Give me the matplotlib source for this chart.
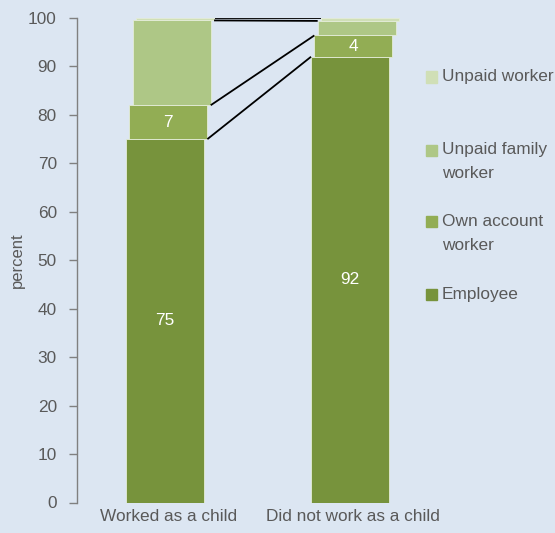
import matplotlib.pyplot as plt
from matplotlib.patches import Rectangle

plt.rcParams['font.family'] = ['Liberation Sans', 'DejaVu Sans']

categories = ["Worked as a child", "Did not work as a child"]
series = ["Employee", "Own account\nworker", "Unpaid family\nworker", "Unpaid worker"]
employee = [75, 92]
own_account = [7, 4.4]
unpaid_family = [17.5, 3.0]
unpaid_worker = [0.5, 0.6]
labels_shown = [["75", "92"], ["7", "4"]]

colors = ["#77933c", "#92ad54", "#aec786", "#d0dfb6"]
bg = "#dce6f2"
grey = "#595959"

W, H = 555, 533
fig = plt.figure(figsize=(W / 100, H / 100), dpi=100, facecolor=bg)
ax = fig.add_axes([77 / W, 1 - 502.5 / H, (420 - 77) / W, (502.5 - 18) / H])
ax.set_facecolor(bg)

width = 0.422
off = 0.018
values = [employee, own_account, unpaid_family, unpaid_worker]
xs = [0, 1]
bottoms = [0, 0]
tops = []
for i, vals in enumerate(values):
    x = [xi + i * off for xi in xs]
    ax.bar(x, vals, width, bottom=bottoms, color=colors[i],
           edgecolor="#e4ecd8", linewidth=0.6, zorder=2)
    if i < 2:
        for j in range(2):
            ax.text(x[j], bottoms[j] + vals[j] / 2, labels_shown[i][j],
                    ha="center", va="center", color="white", fontsize=12.4, zorder=3)
    bottoms = [b + v for b, v in zip(bottoms, vals)]
    tops.append(list(bottoms))

# connector lines between segment tops
for i, t in enumerate(tops):
    x0 = xs[0] + width / 2 + min(i + 1, 3.4) * off
    x1 = xs[1] - width / 2 + i * off
    ax.plot([x0, x1], [t[0], t[1]], color="black", lw=1.3, zorder=4,
            solid_capstyle="butt")

ax.set_xlim(-0.4757, 1.378)
ax.set_ylim(0, 100)
ax.set_yticks(range(0, 101, 10))
ax.set_xticks([xi + off for xi in xs])
ax.set_xticklabels(categories)
ax.tick_params(axis="x", length=0, pad=5, labelsize=12.4, labelcolor=grey)
ax.tick_params(axis="y", length=6, width=1, color="#808080", pad=8.5,
               labelsize=12.4, labelcolor=grey)
for s in ["top", "right", "bottom"]:
    ax.spines[s].set_visible(False)
ax.spines["left"].set_color("#808080")
ax.spines["left"].set_linewidth(1)
ax.set_ylabel("percent", fontsize=12, color=grey)
ax.yaxis.set_label_coords(-0.152, 0.5)

# legend drawn by hand, squares aligned with first line
leg_y = [294, 222, 150, 77]
for i, name in enumerate(series):
    yc = leg_y[i]
    fig.patches.append(Rectangle((426 / W, 1 - (yc + 5.5) / H), 11 / W, 11 / H,
                                 transform=fig.transFigure, color=colors[i]))
    for k, line in enumerate(name.split("\n")):
        fig.text(442 / W, 1 - (yc + 23 * k) / H, line, ha="left",
                 va="center", fontsize=12.4, color=grey)

fig.savefig("out.png", dpi=100, facecolor=bg)
